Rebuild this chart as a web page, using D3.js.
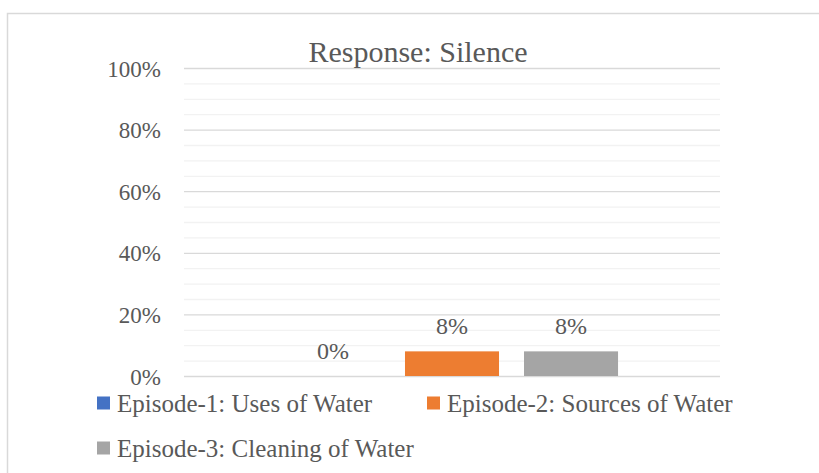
<!DOCTYPE html>
<html>
<head>
<meta charset="utf-8">
<script src="https://cdn.jsdelivr.net/npm/d3@7"></script>
<style>
  html, body { margin: 0; padding: 0; background: #ffffff; }
  svg { display: block; }
  text { font-family: "Liberation Serif", "DejaVu Serif", serif; fill: #595959; }
</style>
</head>
<body>
<svg id="chart" width="819" height="473"></svg>
<script>
// Chart data
const title = "Response: Silence";
const categories = ["Silence"];
const seriesNames = [
  "Episode-1: Uses of Water",
  "Episode-2: Sources of Water",
  "Episode-3: Cleaning of Water"
];
const seriesValues = [0.00, 0.08, 0.08];
const seriesColors = ["#4472C4", "#ED7D31", "#A5A5A5"];
const yTickValues = [0, 0.2, 0.4, 0.6, 0.8, 1.0];
const yGridValues = [0, 0.05, 0.1, 0.15, 0.2, 0.25, 0.3, 0.35, 0.4, 0.45, 0.5,
                     0.55, 0.6, 0.65, 0.7, 0.75, 0.8, 0.85, 0.9, 0.95, 1.0];

const svg = d3.select("#chart");
const plot = { left: 184, right: 720, top: 68, bottom: 376 };
const pct = d3.format(".0%");

// Outer chart frame (runs past the right and bottom edges of the page)
svg.append("rect")
  .attr("x", 7.5).attr("y", 13.5)
  .attr("width", 830).attr("height", 480)
  .attr("fill", "none")
  .attr("stroke", "#D9D9D9")
  .attr("stroke-width", 1.5);

// Scales
const y = d3.scaleLinear().domain([0, 1]).range([plot.bottom, plot.top]);
const x0 = d3.scaleBand().domain(categories)
  .range([plot.left, plot.right]).paddingInner(0).paddingOuter(0.307);
const x1 = d3.scaleBand().domain(seriesNames)
  .range([0, x0.bandwidth()]).paddingInner(0.21).paddingOuter(0);

// Minor gridlines
const minorGrid = svg.append("g")
  .attr("transform", `translate(${plot.left},0)`)
  .call(d3.axisLeft(y).tickValues(yGridValues.filter(v => !yTickValues.some(t => Math.abs(t - v) < 1e-9)))
    .tickSize(-(plot.right - plot.left)).tickFormat(""));
minorGrid.select(".domain").remove();
minorGrid.selectAll("line").attr("stroke", "#F2F2F2").attr("stroke-width", 1.3);

// Major gridlines
const majorGrid = svg.append("g")
  .attr("transform", `translate(${plot.left},0)`)
  .call(d3.axisLeft(y).tickValues(yTickValues)
    .tickSize(-(plot.right - plot.left)).tickFormat(""));
majorGrid.select(".domain").remove();
majorGrid.selectAll("line").attr("stroke", "#D9D9D9").attr("stroke-width", 1.3);

// Y axis labels
const yAxis = svg.append("g")
  .attr("transform", `translate(${plot.left - 23},0)`)
  .call(d3.axisLeft(y).tickValues(yTickValues).tickSize(0).tickPadding(0).tickFormat(pct));
yAxis.select(".domain").remove();
yAxis.selectAll("text")
  .attr("font-size", 23)
  .attr("dy", "0.35em")
  .style("font-family", "'Liberation Serif', serif")
  .attr("fill", "#595959");

// Bars
const rows = seriesNames.map((name, i) => ({
  category: categories[0], name, value: seriesValues[i], color: seriesColors[i]
}));

const group = svg.append("g")
  .attr("transform", `translate(${x0(categories[0])},0)`);

group.selectAll("rect.bar")
  .data(rows)
  .join("rect")
  .attr("class", "bar")
  .attr("x", d => x1(d.name))
  .attr("y", d => y(d.value))
  .attr("width", x1.bandwidth())
  .attr("height", d => y(0) - y(d.value))
  .attr("fill", d => d.color);

// Value labels
group.selectAll("text.value")
  .data(rows)
  .join("text")
  .attr("class", "value")
  .attr("x", d => x1(d.name) + x1.bandwidth() / 2)
  .attr("y", d => y(d.value) - 17)
  .attr("text-anchor", "middle")
  .attr("font-size", 24)
  .text(d => pct(d.value));

// Title
svg.append("text")
  .attr("x", 418)
  .attr("y", 62)
  .attr("text-anchor", "middle")
  .attr("font-size", 30)
  .text(title);

// Legend
const legendPos = [
  { x: 97, y: 403 },
  { x: 427, y: 403 },
  { x: 97, y: 448 }
];
const legend = svg.append("g")
  .selectAll("g")
  .data(rows)
  .join("g")
  .attr("transform", (d, i) => `translate(${legendPos[i].x},${legendPos[i].y})`);

legend.append("rect")
  .attr("x", 0).attr("y", -6.5)
  .attr("width", 13).attr("height", 13)
  .attr("fill", d => d.color);

legend.append("text")
  .attr("x", 20)
  .attr("y", 8.5)
  .attr("font-size", 25)
  .text(d => d.name);
</script>
</body>
</html>
